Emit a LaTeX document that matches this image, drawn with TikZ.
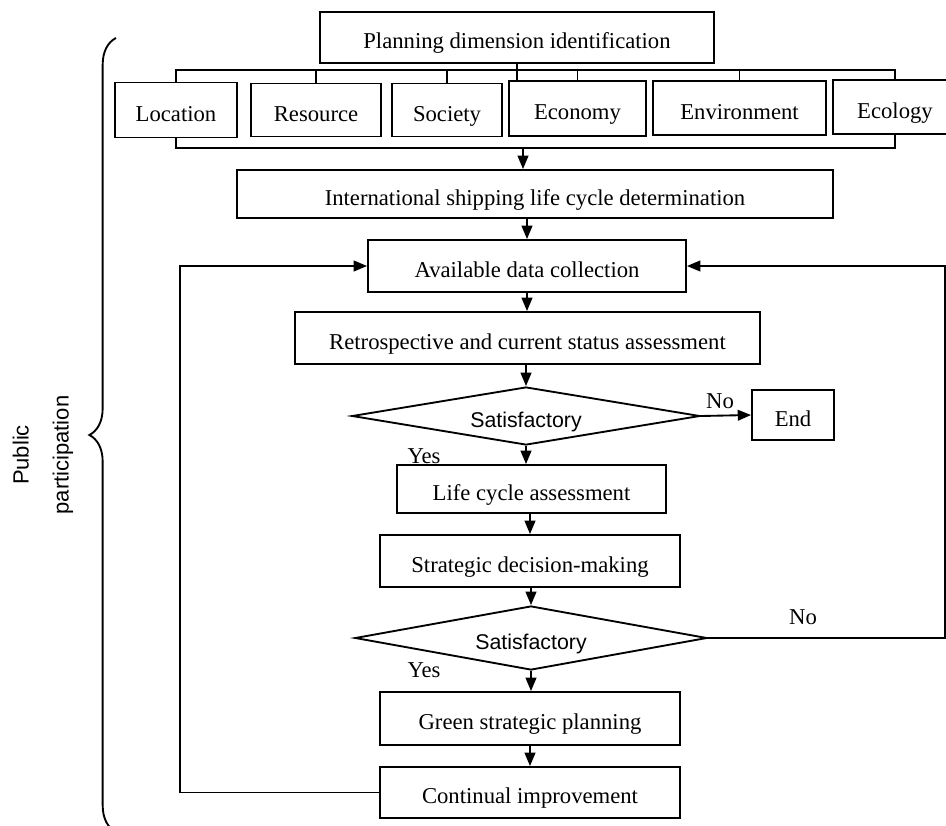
\documentclass[tikz,border=0pt]{standalone}
\usepackage{fontspec}
\setmainfont{Liberation Serif}
\setsansfont{Liberation Sans}
\usetikzlibrary{shapes.geometric,arrows.meta,decorations.pathreplacing}

\begin{document}
\begin{tikzpicture}[x=0.75pt,y=-0.75pt,line width=1.4pt,
  box/.style 2 args={draw,minimum width=#1*0.75pt,minimum height=#2*0.75pt,inner sep=0pt,text height=17pt,text depth=0pt,font=\fontsize{17}{20}\selectfont},
  dia/.style 2 args={draw,diamond,aspect=6,inner sep=0pt,minimum width=#1*0.75pt,minimum height=#2*0.75pt,text height=17pt,text depth=0pt,font=\sffamily\fontsize{16}{19}\selectfont},
  lbl/.style={inner sep=0pt,font=\fontsize{17}{20}\selectfont},
  arr/.style={-{Triangle[length=10pt,width=8pt]}}]
\useasboundingbox (0,0) rectangle (946,825);
\node[box={394}{51}] (plan) at (517,37.5) {Planning dimension identification};
\node[box={122}{55}] (loc) at (176,110) {Location};
\node[box={130}{53}] (res) at (316,110) {Resource};
\node[box={110}{53}] (soc) at (447,110) {Society};
\node[box={137}{55}] (eco) at (577.5,108.5) {Economy};
\node[box={173}{54}] (env) at (739.5,108) {Environment};
\node[box={124}{54}] (ecl) at (895,107) {Ecology};
\node[box={596}{48}] (intl) at (535,194) {International shipping life cycle determination};
\node[box={318}{52}] (avail) at (527,266) {Available data collection};
\node[box={465}{52}] (retro) at (527.5,338) {Retrospective and current status assessment};
\node[dia={348}{58}] (sat1) at (526,416) {Satisfactory};
\node[box={82}{50}] (endn) at (793,415) {End};
\node[box={269}{48}] (lca) at (531.5,489) {Life cycle assessment};
\node[box={300}{52}] (strat) at (530,561) {Strategic decision-making};
\node[dia={352}{64}] (sat2) at (531,638) {Satisfactory};
\node[box={300}{53}] (green) at (530,718.5) {Green strategic planning};
\node[box={300}{51}] (cont) at (530,792.5) {Continual improvement};
\node[lbl] (no1) at (720,401) {No};
\node[lbl] (yes1) at (424,456) {Yes};
\node[lbl] (no2) at (803,617) {No};
\node[lbl] (yes2) at (424,670) {Yes};
\node[rotate=90,align=center,font=\sffamily\fontsize{16.5}{30}\selectfont] (pub) at (43,455) {Public\\participation};
\coordinate (topbar) at (0,70);
\coordinate (botbar) at (523,148);
\coordinate (lx) at (180,0);
\coordinate (rx) at (945,0);
\draw (loc.north) -- (loc.north |- topbar) -- (ecl.north |- topbar) -- (ecl.north);
\foreach \n in {res,soc,eco,env}
  \draw (\n.north) -- (\n.north |- topbar);
\draw (plan.south) -- (plan.south |- eco.north);
\draw (loc.south) -- (loc.south |- botbar) -- (ecl.south |- botbar) -- (ecl.south);
\draw[arr] (botbar) -- (botbar |- intl.north);
\draw[arr] (intl.south -| avail.north) -- (avail.north);
\draw[arr] (avail.south) -- (retro.north -| avail.south);
\draw[arr] (retro.south -| sat1.north) -- (sat1.north);
\draw[arr] (sat1.south) -- (lca.north -| sat1.south);
\draw[arr] (sat1.east) -- (endn.west);
\draw[arr] (lca.south -| strat.north) -- (strat.north);
\draw[arr] (strat.south -| sat2.north) -- (sat2.north);
\draw[arr] (sat2.south) -- (green.north -| sat2.south);
\draw[arr] (green.south) -- (cont.north);
\draw[arr] (cont.west) -| (lx |- avail.west) -- (avail.west);
\draw[arr] (sat2.east) -- (sat2.east -| rx) |- (avail.east);
\draw[decorate,decoration={brace,amplitude=20pt}] (116,832) -- (116,38);
\end{tikzpicture}
\end{document}
